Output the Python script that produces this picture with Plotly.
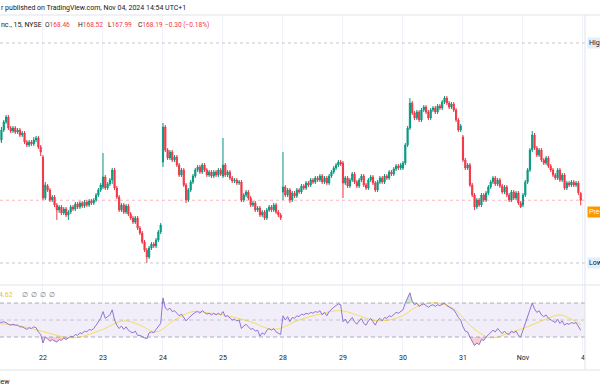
import plotly.graph_objects as go

# ---------------- data ----------------
day_labels = ["22", "23", "24", "25", "28", "29", "30", "31", "Nov", "4"]
day_start_bar = [26, 52, 78, 104, 130, 156, 182, 208, 234, 260]
first_bar = 7  # Oct 21, 8th 15-min bar (first visible)

open_ = [
    170.52,170.60,171.00,171.32,171.52,171.08,170.96,171.08,170.92,171.00,170.80,170.88,170.52,170.40,170.52,170.44,170.60,170.68,170.32,
    169.92,168.28,168.76,168.60,168.20,168.32,168.00,167.80,167.92,167.68,167.84,167.60,167.72,167.92,167.84,168.04,167.92,168.08,167.96,168.12,168.00,168.16,168.08,168.20,168.40,168.60,
    168.72,169.12,168.68,168.84,169.00,169.40,168.68,168.32,167.80,168.00,167.72,167.96,167.64,167.48,167.32,167.48,167.08,166.88,166.52,166.20,165.92,166.28,166.44,166.36,166.60,166.92,
    169.72,171.12,170.20,169.88,170.12,169.80,169.92,169.60,169.20,169.40,168.80,168.20,168.60,168.92,169.16,169.40,169.52,169.32,169.60,169.40,169.20,169.32,169.16,169.32,169.20,169.40,
    169.16,169.60,169.20,169.32,169.08,168.96,169.00,168.88,168.92,168.20,168.40,168.52,168.28,168.00,168.08,167.80,167.88,167.60,167.72,167.48,167.80,167.92,167.80,168.00,167.72,167.60,
    168.52,168.72,168.40,168.60,168.20,168.48,168.36,168.60,168.52,168.76,168.68,168.88,168.80,169.00,168.92,169.08,169.00,169.16,168.92,169.08,168.88,169.16,169.32,169.48,169.60,169.72,
    169.68,168.88,169.08,168.76,169.00,169.24,168.92,168.76,169.00,169.16,168.80,168.68,169.00,169.12,168.88,168.60,168.92,169.08,168.92,169.16,169.08,169.32,169.24,169.44,169.56,169.48,
    169.48,169.68,170.40,171.08,172.08,171.68,171.48,171.72,171.40,171.80,171.92,171.72,171.48,171.80,171.88,171.72,171.96,171.88,172.12,172.28,172.08,171.92,172.04,171.80,171.40,171.00,
    170.72,169.80,169.48,169.60,168.80,168.40,167.92,168.20,168.00,168.40,168.20,168.48,168.72,168.92,169.08,168.84,169.00,168.76,168.52,168.72,168.40,168.20,168.52,168.28,168.48,168.08,
    168.00,168.40,168.92,169.40,170.20,170.80,170.28,170.00,170.20,169.80,169.68,169.88,169.56,169.40,169.20,169.08,169.40,169.00,169.20,168.68,168.88,168.80,168.92,168.80,168.88,168.46,
]
high = [
    170.68,171.12,171.40,171.60,171.60,171.16,171.16,171.16,171.08,171.08,170.96,170.96,170.60,170.60,170.60,170.72,170.76,170.76,170.40,
    170.00,168.92,168.84,168.68,168.40,168.40,168.08,168.00,168.00,167.92,167.92,167.80,168.00,168.00,168.12,168.12,168.16,168.16,168.20,168.20,168.24,168.24,168.28,168.48,168.68,168.88,
    170.08,169.20,168.92,169.08,169.48,169.48,168.76,168.40,168.08,168.08,168.04,168.04,167.72,167.56,167.56,167.56,167.16,166.96,166.60,166.28,166.36,166.52,166.52,166.68,167.00,167.28,
    171.28,171.20,170.28,170.20,170.20,170.00,170.00,169.68,169.48,169.48,168.88,168.68,169.00,169.24,169.48,169.60,169.60,169.68,169.68,169.48,169.40,169.40,169.40,169.40,169.48,169.48,
    170.68,169.68,169.40,169.40,169.16,169.08,169.08,169.00,169.00,168.48,168.60,168.60,168.36,168.16,168.16,167.96,167.96,167.80,167.80,167.88,168.00,168.00,168.08,168.08,167.80,167.68,
    170.12,168.80,168.68,168.68,168.56,168.56,168.68,168.68,168.84,168.84,168.96,168.96,169.08,169.08,169.16,169.16,169.24,169.24,169.16,169.16,169.24,169.40,169.56,169.68,169.80,169.80,
    169.76,169.16,169.16,169.08,169.32,169.32,169.00,169.08,169.24,169.24,168.88,169.08,169.20,169.20,168.96,169.00,169.16,169.16,169.24,169.24,169.40,169.40,169.52,169.64,169.64,169.68,
    169.76,170.48,171.16,172.28,172.16,171.76,171.80,171.80,171.88,172.00,172.00,171.80,171.88,171.96,171.96,172.04,172.04,172.20,172.36,172.36,172.16,172.12,172.12,171.88,171.48,171.24,
    170.80,169.88,169.68,169.68,168.88,168.48,168.28,168.28,168.48,168.48,168.56,168.80,169.00,169.16,169.16,169.08,169.08,168.84,168.80,168.80,168.48,168.60,168.60,168.56,168.56,168.16,
    168.48,169.00,169.48,170.28,170.96,170.88,170.36,170.28,170.28,169.88,169.96,169.96,169.64,169.48,169.28,169.48,169.48,169.28,169.28,168.96,168.96,169.00,169.00,168.96,168.96,168.52,
]
low = [
    170.44,170.48,170.92,171.24,171.00,170.88,170.88,170.84,170.84,170.72,170.72,170.44,170.32,170.32,170.36,170.36,170.52,170.24,169.96,
    168.20,168.20,168.52,168.12,168.12,167.92,167.40,167.68,167.60,167.60,167.52,167.40,167.64,167.76,167.76,167.84,167.84,167.88,167.88,167.92,167.92,168.00,168.00,168.12,168.32,168.52,
    168.64,168.60,168.60,168.76,168.84,168.60,168.24,167.72,167.72,167.64,167.64,167.56,167.40,167.24,167.24,167.00,166.80,166.44,166.12,165.68,165.84,166.20,166.28,166.28,166.52,166.84,
    169.52,170.12,169.80,169.80,169.72,169.72,169.52,169.12,169.12,168.72,168.08,168.12,168.52,168.84,169.08,169.32,169.24,169.24,169.32,169.12,169.12,169.08,169.08,169.12,169.12,169.16,
    169.08,169.12,169.12,169.00,168.88,168.88,168.80,168.80,168.12,168.12,168.32,168.20,167.92,167.92,167.72,167.72,167.52,167.52,167.40,167.40,167.72,167.72,167.72,167.64,167.52,167.40,
    168.20,168.32,168.32,168.08,168.12,168.28,168.28,168.44,168.44,168.60,168.60,168.72,168.72,168.84,168.84,168.92,168.92,168.84,168.84,168.80,168.80,169.08,169.24,169.40,169.52,169.56,
    168.28,168.80,168.68,168.68,168.92,168.84,168.68,168.68,168.92,168.72,168.60,168.60,168.92,168.80,168.52,168.52,168.84,168.84,168.84,169.00,169.00,169.16,169.16,169.36,169.40,169.40,
    169.40,169.60,170.32,171.00,171.60,171.40,171.40,171.32,171.32,171.72,171.64,171.40,171.40,171.72,171.64,171.64,171.80,171.80,172.04,172.00,171.84,171.84,171.72,171.32,170.92,170.92,
    169.72,169.40,169.40,168.72,168.32,167.80,167.84,167.92,167.92,168.12,168.12,168.40,168.64,168.84,168.76,168.76,168.68,168.44,168.44,168.32,168.12,168.12,168.20,168.20,168.00,167.88,
    167.92,168.32,168.84,169.32,170.12,170.20,169.92,169.92,169.72,169.60,169.60,169.48,169.32,169.12,169.00,169.00,168.92,168.92,168.60,168.60,168.72,168.72,168.72,168.72,168.40,167.99,
]
close = [
    170.60,171.00,171.32,171.52,171.08,170.96,171.08,170.92,171.00,170.80,170.88,170.52,170.40,170.52,170.44,170.60,170.68,170.32,170.12,
    168.28,168.80,168.60,168.20,168.32,168.00,167.80,167.92,167.68,167.84,167.60,167.72,167.92,167.84,168.04,167.92,168.08,167.96,168.12,168.00,168.16,168.08,168.20,168.40,168.60,168.80,
    169.12,168.68,168.84,169.00,169.40,168.68,168.32,167.80,168.00,167.72,167.96,167.64,167.48,167.32,167.48,167.08,166.88,166.52,166.20,165.92,166.28,166.44,166.36,166.60,166.92,167.20,
    171.12,170.20,169.88,170.12,169.80,169.92,169.60,169.20,169.40,168.80,168.20,168.60,168.92,169.16,169.40,169.52,169.32,169.60,169.40,169.20,169.32,169.16,169.32,169.20,169.40,169.24,
    169.60,169.20,169.32,169.08,168.96,169.00,168.88,168.92,168.20,168.40,168.52,168.28,168.00,168.08,167.80,167.88,167.60,167.72,167.48,167.80,167.92,167.80,168.00,167.72,167.60,167.48,
    168.72,168.40,168.60,168.20,168.48,168.36,168.60,168.52,168.76,168.68,168.88,168.80,169.00,168.92,169.08,169.00,169.16,168.92,169.08,168.88,169.16,169.32,169.48,169.60,169.72,169.64,
    168.88,169.08,168.76,169.00,169.24,168.92,168.76,169.00,169.16,168.80,168.68,169.00,169.12,168.88,168.60,168.92,169.08,168.92,169.16,169.08,169.32,169.24,169.44,169.56,169.48,169.60,
    169.68,170.40,171.08,172.08,171.68,171.48,171.72,171.40,171.80,171.92,171.72,171.48,171.80,171.88,171.72,171.96,171.88,172.12,172.28,172.08,171.92,172.04,171.80,171.40,171.00,171.16,
    169.80,169.48,169.60,168.80,168.40,167.92,168.20,168.00,168.40,168.20,168.48,168.72,168.92,169.08,168.84,169.00,168.76,168.52,168.72,168.40,168.20,168.52,168.28,168.48,168.08,167.92,
    168.40,168.92,169.40,170.20,170.80,170.28,170.00,170.20,169.80,169.68,169.88,169.56,169.40,169.20,169.08,169.40,169.00,169.20,168.68,168.88,168.80,168.92,168.80,168.88,168.49,168.19,
]

rsi = [
    48,47,48,47,45,44,45,44,44,42,42,40,39,41,40,42,41,36,33,
    23,30,28,25,27,25,24,27,26,29,27,29,31,30,33,32,35,34,37,36,39,38,40,44,48,52,
    60,52,54,56,62,50,44,40,43,39,42,38,36,35,37,32,32,30,29,28,35,36,35,39,43,46,
    76,64,62,64,60,61,58,55,57,53,49,52,55,57,59,60,58,61,59,57,58,56,58,56,58,56,
    60,54,55,52,50,51,49,50,40,43,45,42,39,40,37,38,31,35,33,38,40,38,40,36,34,33,
    55,50,54,48,53,52,55,54,57,56,58,57,59,58,60,59,61,56,59,55,60,63,65,67,69,68,
    48,51,46,50,53,48,45,49,52,46,44,49,52,48,44,50,52,49,53,52,55,54,57,59,58,60,
    62,70,76,82,72,68,70,66,68,69,67,65,67,68,66,68,67,69,70,67,65,64,62,58,53,50,
    42,37,36,30,25,20,23,21,27,26,30,33,35,38,36,40,37,34,37,34,33,37,35,37,32,30,
    38,46,54,62,70,63,59,61,56,54,56,52,50,48,47,51,46,49,44,46,45,47,46,47,43,38,
]
rsi_ma_bar = [7, 18, 28, 39, 51, 61, 68, 75, 83, 91, 98, 104, 116, 126, 137, 146, 155,
              163, 171, 181, 189, 197, 204, 211, 217, 221, 228, 235, 243, 250, 255, 259]
rsi_ma = [46, 42, 35, 29, 38, 49, 44, 36, 50, 60, 58, 56, 48, 39, 50, 57, 61,
          55, 49, 54, 67, 70, 63, 44, 32, 29, 35, 41, 50, 56, 51, 44.62]

high_level = 174.48
low_level = 165.68
premarket_price = 167.72
rsi_upper, rsi_mid, rsi_lower = 70, 50, 30

# ---------------- layout helpers ----------------
W, H = 600, 392
ML, MR, MT, MB = 0, 15, 15, 40
PW, PH = W - ML - MR, H - MT - MB
RSI_TOP = 285
split = (MT + PH - RSI_TOP) / PH


def px(x):
    return (x - ML) / PW


def py(y):
    return (MT + PH - y) / PH


bars = list(range(first_bar, first_bar + len(close)))
UP, DN = "#089981", "#F23645"
TXT = "#131722"
FONT = "Roboto"

fig = go.Figure()

# RSI overbought / oversold fills
fig.add_trace(go.Scatter(x=bars, y=[rsi_upper] * len(bars), yaxis="y2", mode="lines",
                         line=dict(width=0), hoverinfo="skip", showlegend=False))
fig.add_trace(go.Scatter(x=bars, y=[max(v, rsi_upper) for v in rsi], yaxis="y2", mode="lines",
                         line=dict(width=0), fill="tonexty", fillcolor="rgba(76,175,80,0.28)",
                         hoverinfo="skip", showlegend=False))
fig.add_trace(go.Scatter(x=bars, y=[rsi_lower] * len(bars), yaxis="y2", mode="lines",
                         line=dict(width=0), hoverinfo="skip", showlegend=False))
fig.add_trace(go.Scatter(x=bars, y=[min(v, rsi_lower) for v in rsi], yaxis="y2", mode="lines",
                         line=dict(width=0), fill="tonexty", fillcolor="rgba(242,54,69,0.25)",
                         hoverinfo="skip", showlegend=False))
# RSI MA and RSI line
fig.add_trace(go.Scatter(x=rsi_ma_bar, y=rsi_ma, yaxis="y2", mode="lines",
                         line=dict(color="#F7DC5A", width=1, shape="spline", smoothing=1.1),
                         hoverinfo="skip", showlegend=False))
fig.add_trace(go.Scatter(x=bars, y=rsi, yaxis="y2", mode="lines",
                         line=dict(color="#9274D3", width=1), hoverinfo="skip", showlegend=False))

# candles
fig.add_trace(go.Candlestick(
    x=bars, open=open_, high=high, low=low, close=close,
    increasing=dict(line=dict(color=UP, width=1), fillcolor=UP),
    decreasing=dict(line=dict(color=DN, width=1), fillcolor=DN),
    whiskerwidth=0, showlegend=False, hoverinfo="skip"))

shapes = []
# RSI band background and levels
shapes.append(dict(type="rect", xref="paper", yref="y2", x0=0, x1=1, y0=rsi_lower, y1=rsi_upper,
                   fillcolor="rgba(126,87,194,0.10)", line=dict(width=0), layer="below"))
for lv, op in [(rsi_upper, 0.6), (rsi_mid, 0.35), (rsi_lower, 0.6)]:
    shapes.append(dict(type="line", xref="paper", yref="y2", x0=0, x1=1, y0=lv, y1=lv,
                       line=dict(color=f"rgba(120,123,134,{op})", width=1, dash="4px,3px")))
# price levels
for lv in (high_level, low_level):
    shapes.append(dict(type="line", xref="paper", yref="y", x0=0, x1=1, y0=lv, y1=lv,
                       line=dict(color="#C3C6CE", width=1, dash="dot")))
shapes.append(dict(type="line", xref="paper", yref="y", x0=0, x1=1, y0=close[-1], y1=close[-1],
                   line=dict(color="rgba(242,54,69,0.35)", width=1, dash="dot")))
# pane borders
for yy in (MT, RSI_TOP, 370):
    shapes.append(dict(type="line", xref="paper", yref="paper", x0=0, x1=px(W), y0=py(yy), y1=py(yy),
                       line=dict(color="#E0E3EB", width=1)))
shapes.append(dict(type="line", xref="paper", yref="paper", x0=1, x1=1, y0=py(MT), y1=py(370),
                   line=dict(color="#E0E3EB", width=1)))

annotations = []


def txt(x, y, text, color=TXT, size=7, anchor="left", bg=None):
    d = dict(xref="paper", yref="paper", x=px(x), y=py(y), text=text, showarrow=False,
             xanchor=anchor, yanchor="middle", font=dict(family=FONT, size=size, color=color),
             borderpad=1)
    if bg:
        d["bgcolor"] = bg
    annotations.append(d)


txt(-1, 8, "r published on TradingView.com, Nov 04, 2024 14:54 UTC+1", size=7)
red_span = "<span style='color:%s'>%s</span>"
txt(-1, 24.5, "nc., 15, NYSE")
txt(43, 24.5, "O" + red_span % (DN, f"{open_[-1]:.2f}"), size=6.6)
txt(76, 24.5, "H" + red_span % (DN, f"{high[-1]:.2f}"), size=6.6)
txt(106, 24.5, "L" + red_span % (DN, f"{low[-1]:.2f}"), size=6.6)
txt(136, 24.5, "C" + red_span % (DN, f"{close[-1]:.2f}"), size=6.6)
chg = close[-1] - close[-2]
txt(163, 24.5, f"\u2212{abs(chg):.2f} (\u2212{abs(chg) / close[-2] * 100:.2f}%)", color=DN, size=6.6)

txt(15, 295, f"{rsi_ma[-1]:.2f}", color="#E8C530", anchor="right")
for xx in (20, 29, 38, 47):
    txt(xx, 295, "\u2205", color="#787B86")

txt(12, 382, "TradingView", anchor="right", size=7)

txt(587, 43, "High", bg="#E3EEFB")
txt(587, 212, "Pre-market", color="white", bg="#FF9800")
txt(587, 263, "Low", bg="#E3EEFB")

fig.update_layout(
    width=W, height=H, margin=dict(l=ML, r=MR, t=MT, b=MB),
    paper_bgcolor="white", plot_bgcolor="white",
    showlegend=False, hovermode=False,
    shapes=shapes, annotations=annotations,
    xaxis=dict(range=[7.37, 260.87], anchor="y2", tickvals=day_start_bar, ticktext=day_labels,
               showgrid=True, gridcolor="#F0F3FA", gridwidth=1, zeroline=False, showline=False,
               ticks="", tickfont=dict(family=FONT, size=7, color=TXT),
               rangeslider=dict(visible=False)),
    yaxis=dict(domain=[split, 1], range=[164.8, 175.6], showticklabels=False, showgrid=False,
               zeroline=False),
    yaxis2=dict(domain=[0, split], range=[12.4, 91.2], showticklabels=False, showgrid=False,
                zeroline=False),
)

fig.write_html("out.html", config={"displayModeBar": False},
               post_script="document.body.style.margin='0';document.body.style.overflow='hidden';")
